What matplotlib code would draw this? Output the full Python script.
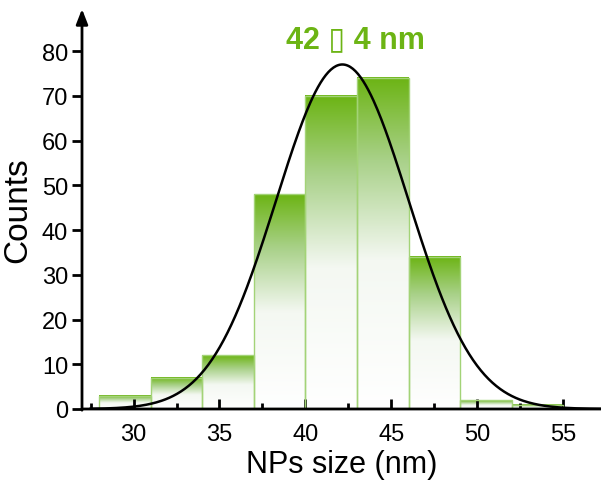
"""
Size distribution histogram of NPs with gradient bars and Gaussian fit.
"""

import numpy as np
import matplotlib
matplotlib.use("Agg")
import matplotlib.pyplot as plt
from matplotlib.colors import LinearSegmentedColormap

plt.rcParams['font.family'] = ['Liberation Sans', 'DejaVu Sans']

# histogram data (bin edges in nm, counts)
bin_left = [28, 31, 34, 37, 40, 43, 46, 49, 52]
bin_width = 3
counts = [3, 7, 12, 48, 70, 74, 34, 2, 1]

# gaussian fit parameters
fit_mean = 42.15
fit_sigma = 3.85
fit_amp = 77.0

x_ticks = [30, 35, 40, 45, 50, 55]
y_ticks = [0, 10, 20, 30, 40, 50, 60, 70, 80]

GREEN = "#6cb414"
EDGE = "#a3d377"

fig = plt.figure(figsize=(6.01, 4.85), dpi=100)
ax = fig.add_axes([82 / 601, 75 / 485, 519 / 601, 400 / 485])

# gradient: green at top fading to white by ~55% of bar height
cmap = LinearSegmentedColormap.from_list(
    "grad", [(0.0, "#ffffff"), (0.45, "#f4f8f2"), (0.75, "#a9d189"), (1.0, GREEN)])
grad = np.linspace(0, 1, 256).reshape(-1, 1)

for x0, h in zip(bin_left, counts):
    ax.imshow(grad, extent=[x0, x0 + bin_width, 0, h], origin="lower",
              aspect="auto", cmap=cmap, zorder=1, interpolation="bicubic")
ax.bar(bin_left, counts, width=bin_width, align="edge", fill=False,
       edgecolor=EDGE, linewidth=1.0, zorder=2)

xs = np.linspace(27.5, 57.5, 400)
ax.plot(xs, fit_amp * np.exp(-(xs - fit_mean) ** 2 / (2 * fit_sigma ** 2)),
        color="black", lw=1.8, zorder=3)

ax.set_xlim(27.0, 57.2)
ax.set_ylim(0, 89.4)

for s in ["top", "right", "left", "bottom"]:
    ax.spines[s].set_visible(False)

# axes with arrowheads (x arrow runs off the right edge, as in the original)
arrow = dict(arrowstyle="-|>,head_length=0.9,head_width=0.35", lw=2.0,
             color="black", shrinkA=0, shrinkB=0)
ax.annotate("", xy=(0, 1), xytext=(0, -0.003), xycoords="axes fraction",
            arrowprops=arrow, annotation_clip=False)
ax.annotate("", xy=(1.05, 0), xytext=(0, 0), xycoords="axes fraction",
            arrowprops=arrow, annotation_clip=False)

ax.set_xticks(x_ticks)
ax.set_xticks([27.5, 32.5, 37.5, 42.5, 47.5, 52.5], minor=True)
ax.set_yticks(y_ticks)
ax.tick_params(axis="x", which="major", direction="in", length=7, width=2,
               labelsize=17, pad=10)
ax.tick_params(axis="x", which="minor", direction="in", length=4, width=2)
ax.tick_params(axis="y", which="major", direction="out", length=7, width=2,
               labelsize=17, pad=3)

ax.set_xlabel("NPs size (nm)", fontsize=22, labelpad=3)
ax.set_ylabel("Counts", fontsize=24, labelpad=6)

fig.text(355 / 601, 1 - 40 / 485, "42 \u25af 4 nm", color="#6cb414",
         fontsize=22, fontweight="bold", ha="center", va="center")

fig.savefig("out.png", dpi=100)
